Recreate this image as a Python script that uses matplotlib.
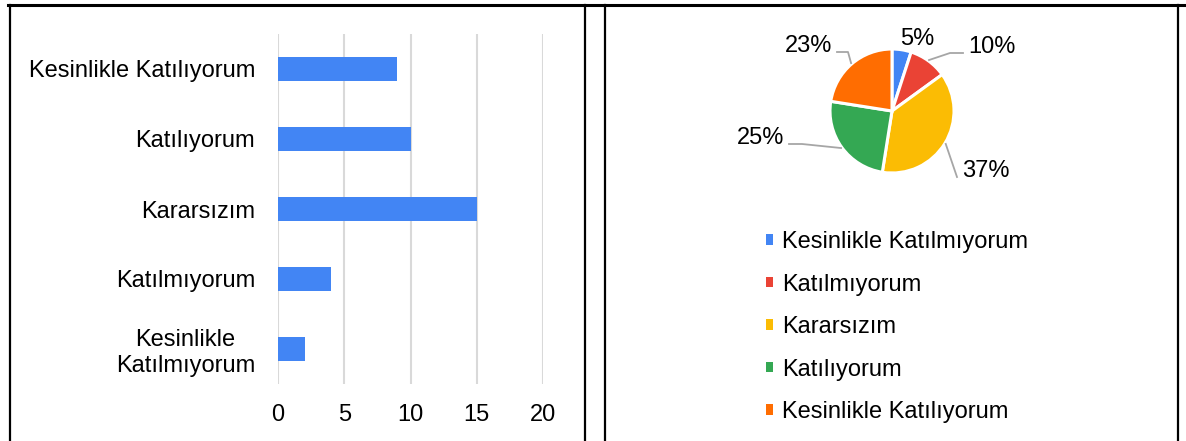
import numpy as np
import matplotlib
matplotlib.use('Agg')
import matplotlib.pyplot as plt
from matplotlib.lines import Line2D
from matplotlib.patches import Patch

plt.rcParams['font.family'] = ['Liberation Sans', 'DejaVu Sans']

# data: answers ordered from "strongly disagree" to "strongly agree"
categories = ['Kesinlikle Katılmıyorum', 'Katılmıyorum', 'Kararsızım',
              'Katılıyorum', 'Kesinlikle Katılıyorum']
bar_labels = ['Kesinlikle\nKatılmıyorum', 'Katılmıyorum', 'Kararsızım',
              'Katılıyorum', 'Kesinlikle Katılıyorum']
counts = [2, 4, 15, 10, 9]
pct_labels = ['5%', '10%', '37%', '25%', '23%']
x_ticks = [0, 5, 10, 15, 20]

colors = ['#4285F4', '#EA4335', '#FBBC04', '#34A853', '#FF6D01']
bar_color = '#4285F4'
FS = 17

W, H = 1186, 441
fig = plt.figure(figsize=(W / 100, H / 100), dpi=100)


def fx(px):
    return px / W


def fy(py):
    return 1 - py / H


# table borders
border = dict(color='black', transform=fig.transFigure)
fig.add_artist(Line2D([fx(8), fx(W)], [fy(4.5), fy(4.5)], linewidth=2.2, **border))
for xb in [10, 585, 605, 1178]:
    fig.add_artist(Line2D([fx(xb), fx(xb)], [fy(4.5), 0], linewidth=1.6, **border))

# --- bar chart ---
ax = fig.add_axes([fx(278), fy(384), fx(543) - fx(278), fy(34) - fy(384)])
y = np.arange(len(categories))
ax.barh(y, counts, height=0.34, color=bar_color, zorder=3)
ax.set_ylim(-0.5, len(categories) - 0.5)
ax.set_xlim(0, 20)
ax.set_xticks(x_ticks)
ax.set_xticklabels([str(t) for t in x_ticks])
ax.set_yticks(y)
ax.set_yticklabels(bar_labels, multialignment='center')
ax.xaxis.grid(True, color='#d9d9d9', linewidth=1.5, zorder=0)
ax.set_axisbelow(True)
for s in ax.spines.values():
    s.set_visible(False)
ax.tick_params(axis='x', length=0, pad=14.5, labelsize=FS)
ax.tick_params(axis='y', length=0, pad=16.5, labelsize=FS)

# --- pie chart (axes units are pixels, centre of pie at origin) ---
cx, cy, r = 892, 111, 62
x0, x1, y0, y1 = 700, 1090, 15, 205
ax2 = fig.add_axes([fx(x0), fy(y1), fx(x1) - fx(x0), fy(y0) - fy(y1)])
wedges, _ = ax2.pie(counts, colors=colors, startangle=90, counterclock=False,
                    radius=r, center=(0, 0),
                    wedgeprops=dict(edgecolor='white', linewidth=2.2))
ax2.set_xlim(x0 - cx, x1 - cx)
ax2.set_ylim(cy - y1, cy - y0)
ax2.set_aspect('auto')
ax2.axis('off')

# label anchor points (pixel offsets from centre, y up) and elbow lengths
label_anchor = [(25, 72), (71, 58), (65, -66), (-103, -33), (-55, 59)]
elbow_len = [None, 13, 0, 13, 11]
for w, lab, (axp, ayp), el in zip(wedges, pct_labels, label_anchor, elbow_len):
    if el is None:
        ax2.text(axp, ayp, lab, ha='center', va='center', fontsize=FS)
        continue
    mid = np.deg2rad((w.theta1 + w.theta2) / 2)
    ex, ey = (r + 1) * np.cos(mid), (r + 1) * np.sin(mid)
    side = 1 if axp > 0 else -1
    ax2.plot([ex, axp - side * el, axp], [ey, ayp, ayp], color='#a6a6a6',
             linewidth=1.3, clip_on=False)
    ax2.text(axp + side * 5, ayp + 6, lab, ha='left' if side > 0 else 'right',
             va='center', fontsize=FS)

handles = [Patch(facecolor=c, edgecolor='none') for c in colors]
fig.legend(handles, categories, loc='upper left',
           bbox_to_anchor=(fx(766), fy(231)), frameon=False, fontsize=FS,
           handlelength=0.31, handleheight=0.31, handletextpad=0.36,
           labelspacing=0.87, borderpad=0, borderaxespad=0)

fig.savefig('out.png', dpi=100)
